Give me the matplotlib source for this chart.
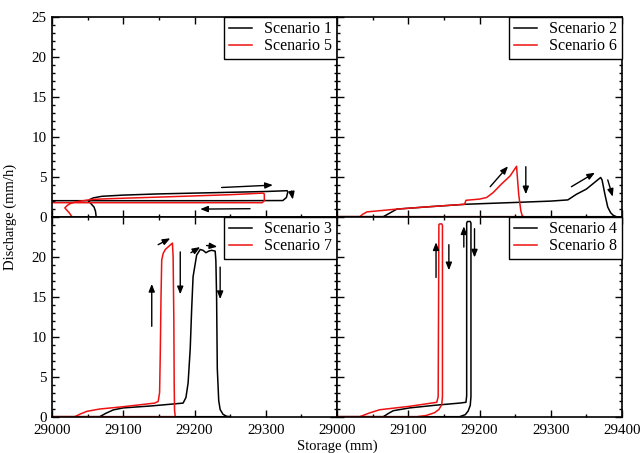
import matplotlib
matplotlib.use("Agg")
import matplotlib.pyplot as plt
from matplotlib.ticker import MultipleLocator, FuncFormatter

plt.rcParams['font.family'] = ['Liberation Serif', 'DejaVu Serif']

# ---------------- data (storage mm, discharge mm/h) ----------------
s1_storage = [29062, 29061, 29059, 29055, 29052, 29053, 29058, 29070, 29100, 29150, 29200, 29250, 29300, 29330,
              29331, 29329, 29324, 29250, 29150, 29050, 29000, 28990]
s1_discharge = [0.0, 0.7, 1.2, 1.6, 1.9, 2.15, 2.35, 2.55, 2.7, 2.85, 2.95, 3.05, 3.15, 3.25,
                3.1, 2.4, 2.02, 2.0, 2.0, 2.0, 2.0, 2.0]

s5_storage = [29028, 29024, 29018, 29022, 29028, 29040, 29055, 29080, 29150, 29200, 29250, 29296,
              29298, 29298, 29295, 29200, 29100, 29000, 28990]
s5_discharge = [0.0, 0.5, 1.1, 1.45, 1.75, 1.95, 2.15, 2.25, 2.45, 2.6, 2.75, 2.95,
                2.85, 2.0, 1.75, 1.75, 1.75, 1.75, 1.75]

s2_storage = [29000, 29065, 29075, 29084, 29130, 29180, 29200, 29250, 29300, 29324, 29336, 29350, 29359, 29370,
              29372, 29376, 29380, 29384, 29388, 29392, 29300, 29000]
s2_discharge = [0.0, 0.0, 0.5, 0.95, 1.25, 1.55, 1.62, 1.78, 1.95, 2.1, 2.8, 3.45, 4.1, 4.9,
                4.6, 2.8, 1.2, 0.5, 0.15, 0.0, 0.0, 0.0]

s6_storage = [29000, 29032, 29036, 29042, 29084, 29130, 29179, 29181, 29200, 29210, 29219, 29231, 29243, 29252,
              29255, 29258, 29260, 29262, 29100, 29000]
s6_discharge = [0.0, 0.0, 0.3, 0.6, 0.95, 1.25, 1.55, 2.05, 2.2, 2.4, 3.0, 4.1, 5.1, 6.3,
                2.8, 0.75, 0.1, 0.0, 0.0, 0.0]

s3_storage = [29000, 29067, 29075, 29086, 29100, 29140, 29184, 29188, 29191, 29194, 29196, 29198, 29203, 29208,
              29212, 29216, 29220, 29224, 29229, 29230, 29231, 29232, 29234, 29236, 29240, 29245, 29250, 29000]
s3_discharge = [0.0, 0.0, 0.4, 0.85, 1.1, 1.35, 1.7, 2.4, 4.2, 8.5, 13.4, 17.5, 20.2, 20.9,
                20.8, 20.5, 20.7, 20.8, 20.7, 19.5, 15.0, 6.0, 2.0, 0.9, 0.3, 0.05, 0.0, 0.0]

s7_storage = [29000, 29032, 29040, 29049, 29067, 29100, 29144, 29149, 29151, 29152, 29153, 29154, 29156, 29159,
              29164, 29169, 29170, 29171, 29171.5, 29172, 29173, 29100, 29000]
s7_discharge = [0.0, 0.0, 0.35, 0.67, 0.96, 1.25, 1.7, 1.9, 3.0, 8.0, 15.0, 19.6, 20.4, 20.9,
                21.3, 21.7, 20.0, 12.0, 4.0, 0.8, 0.0, 0.0, 0.0]

s4_storage = [29000, 29065, 29072, 29079, 29102, 29140, 29172, 29181, 29182, 29182, 29183, 29187, 29188,
              29188, 29187, 29184, 29180, 29172, 29100, 29000]
s4_discharge = [0.0, 0.0, 0.4, 0.75, 1.1, 1.45, 1.7, 1.8, 2.6, 24.2, 24.4, 24.4, 24.2,
                2.5, 1.4, 0.7, 0.25, 0.0, 0.0, 0.0]

s8_storage = [29000, 29032, 29045, 29060, 29102, 29140, 29142, 29143, 29144, 29147, 29148,
              29148, 29147, 29143, 29137, 29125, 29112, 29000]
s8_discharge = [0.0, 0.0, 0.45, 0.87, 1.3, 1.8, 2.5, 24.0, 24.1, 24.1, 23.9,
                2.5, 1.5, 0.9, 0.5, 0.15, 0.0, 0.0]

labels = ["Scenario 1", "Scenario 5", "Scenario 2", "Scenario 6",
          "Scenario 3", "Scenario 7", "Scenario 4", "Scenario 8"]

# direction arrows (data coordinates: start storage, start discharge, end storage, end discharge)
arrows_tl = [(29238, 3.65, 29310, 3.95), (29336, 3.2, 29338, 2.15), (29278, 1.0, 29208, 0.95)]
arrows_tr = [(29215, 3.75, 29240, 6.3), (29265, 6.25, 29265, 2.8),
             (29329, 3.75, 29362, 5.5), (29380, 4.6, 29387, 2.5)]
arrows_bl = [(29140, 11.3, 29140, 16.6), (29180, 20.6, 29180, 15.3), (29149, 21.5, 29166, 22.3),
             (29195, 20.5, 29208, 21.2), (29217, 21.4, 29232, 21.25), (29236, 18.7, 29236, 14.7)]
arrows_br = [(29139, 17.4, 29139, 21.8), (29157, 21.5, 29157, 18.3),
             (29178, 21.2, 29178, 23.8), (29193, 23.5, 29193, 19.9)]

# ---------------- figure ----------------
W, H = 643, 453
fig = plt.figure(figsize=(W / 100, H / 100), dpi=100)

x_left, x_mid, x_right = 52, 337, 622
y_top, y_mid, y_bot = 16.7, 216.7, 416.7

def rect(x0, x1, yt, yb):
    return [x0 / W, 1 - yb / H, (x1 - x0) / W, (yb - yt) / H]

ax_tl = fig.add_axes(rect(x_left, x_mid, y_top, y_mid))
ax_tr = fig.add_axes(rect(x_mid, x_right, y_top, y_mid))
ax_bl = fig.add_axes(rect(x_left, x_mid, y_mid, y_bot))
ax_br = fig.add_axes(rect(x_mid, x_right, y_mid, y_bot))

panels = [
    (ax_tl, s1_storage, s1_discharge, s5_storage, s5_discharge, labels[0], labels[1], arrows_tl),
    (ax_tr, s2_storage, s2_discharge, s6_storage, s6_discharge, labels[2], labels[3], arrows_tr),
    (ax_bl, s3_storage, s3_discharge, s7_storage, s7_discharge, labels[4], labels[5], arrows_bl),
    (ax_br, s4_storage, s4_discharge, s8_storage, s8_discharge, labels[6], labels[7], arrows_br),
]

for ax, bs, bq, rs, rq, lb, lr, arrs in panels:
    ax.plot(bs, bq, color='black', lw=1.1, label=lb)
    ax.plot(rs, rq, color='#ee1111', lw=1.1, label=lr)
    ax.set_xlim(29000, 29400)
    ax.set_ylim(0, 25)
    ax.xaxis.set_major_locator(MultipleLocator(100))
    ax.xaxis.set_minor_locator(MultipleLocator(50))
    ax.yaxis.set_major_locator(MultipleLocator(5))
    ax.yaxis.set_minor_locator(MultipleLocator(1))
    ax.tick_params(which='both', direction='in', top=True, right=True, labelsize=10.8, width=1.0)
    ax.tick_params(which='major', length=5)
    ax.tick_params(which='minor', length=2.5)
    ax.tick_params(axis='x', which='major', pad=5.5)
    ax.tick_params(axis='y', which='major', pad=4)
    for sp in ax.spines.values():
        sp.set_linewidth(1.2)
    for (x0, y0, x1, y1) in arrs:
        ax.annotate('', xy=(x1, y1), xytext=(x0, y0),
                    arrowprops=dict(arrowstyle='-|>,head_length=0.45,head_width=0.18',
                                    color='black', lw=1.0, shrinkA=0, shrinkB=0))
    leg = ax.legend(loc='upper right', borderaxespad=0, fontsize=11.5, frameon=True, fancybox=False,
                    framealpha=1, edgecolor='black', handlelength=1.45, handletextpad=0.75,
                    labelspacing=0.05, borderpad=0.3)
    leg.get_frame().set_linewidth(1.0)

# tick label visibility
ax_tl.tick_params(labelbottom=False)
ax_tr.tick_params(labelbottom=False, labelleft=False)
ax_br.tick_params(labelleft=False)
ax_bl.xaxis.set_major_formatter(FuncFormatter(lambda v, p: '' if v >= 29400 else f'{int(v)}'))
ax_bl.yaxis.set_major_formatter(FuncFormatter(lambda v, p: '' if v >= 25 else f'{int(v)}'))

fig.text(10 / W, 1 - y_mid / H, 'Discharge (mm/h)', rotation=90, ha='center', va='center', fontsize=10.5)
fig.text(x_mid / W, 1 - 446 / H, 'Storage (mm)', ha='center', va='center', fontsize=10.5)

fig.savefig('out.png', dpi=100)
